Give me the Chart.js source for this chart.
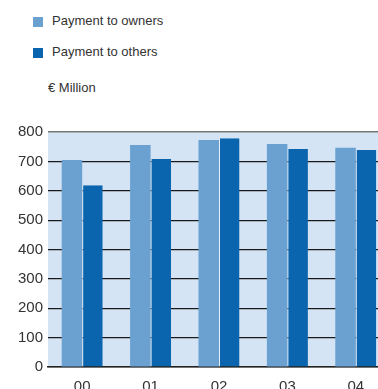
<!DOCTYPE html>
<html>
<head>
<meta charset="utf-8">
<script src="https://cdn.jsdelivr.net/npm/chart.js@4/dist/chart.umd.min.js"></script>
<style>
  html, body { margin: 0; padding: 0; background: #fff; overflow: hidden; width: 378px; height: 389px; }
  body { position: relative; font-family: "Liberation Sans", Arial, sans-serif; color: #333; }
  .key { position: absolute; left: 33px; width: 10px; height: 10px; }
  .lbl { position: absolute; font-size: 13px; line-height: 13px; white-space: nowrap; }
  #wrap { position: absolute; left: 0; top: 110px; width: 390px; height: 300px; }
</style>
</head>
<body>
<div id="legend"></div>
<div class="lbl" style="left:48px; top:81px;">€ Million</div>
<div id="wrap"><canvas id="payChart"></canvas></div>
<script>
// years and payments, € million
var years = ['00', '01', '02', '03', '04'];
var toOwners = [705, 756, 773, 759, 746];
var toOthers = [619, 708, 779, 742, 739];
var yTicks = [0, 100, 200, 300, 400, 500, 600, 700, 800];

var ownersColor = '#6aa1d1';
var othersColor = '#0a64ae';
var plotBg = '#d4e4f5';

// legend rows
var legendRows = [
    { text: 'Payment to owners', color: ownersColor, top: 17 },
    { text: 'Payment to others', color: othersColor, top: 48 }
];
var legend = document.getElementById('legend');
legendRows.forEach(function (row) {
    var box = document.createElement('div');
    box.className = 'key';
    box.style.top = row.top + 'px';
    box.style.background = row.color;
    legend.appendChild(box);
    var t = document.createElement('div');
    t.className = 'lbl';
    t.style.left = '52px';
    t.style.top = (row.top - 3) + 'px';
    t.textContent = row.text;
    legend.appendChild(t);
});

// light blue fill behind the bars
var plotBackground = {
    id: 'plotBackground',
    beforeDraw: function (chart) {
        var a = chart.chartArea;
        var ctx = chart.ctx;
        ctx.save();
        ctx.fillStyle = plotBg;
        ctx.fillRect(a.left, a.top, a.right - a.left, a.bottom - a.top);
        ctx.restore();
    }
};

var ctx = document.getElementById('payChart').getContext('2d');
var payChart = new Chart(ctx, {
    type: 'bar',
    data: {
        labels: years,
        datasets: [{
            label: 'Payment to owners',
            data: toOwners,
            backgroundColor: ownersColor,
            borderWidth: 0,
            categoryPercentage: 0.6,
            barPercentage: 1
        }, {
            label: 'Payment to others',
            data: toOthers,
            backgroundColor: othersColor,
            borderColor: '#e4eef9',
            borderWidth: { left: 1, right: 0, top: 0, bottom: 0 },
            borderSkipped: false,
            categoryPercentage: 0.6,
            barPercentage: 1
        }]
    },
    options: {
        responsive: true,
        maintainAspectRatio: false,
        animation: false,
        layout: { padding: { top: 22, right: 0, left: 0, bottom: 0 } },
        plugins: {
            legend: { display: false },
            tooltip: { enabled: false }
        },
        scales: {
            x: {
                afterFit: function (scale) { scale.height = 43; },
                grid: { display: false },
                border: { display: true, color: '#222', width: 1.5 },
                ticks: {
                    color: '#333',
                    padding: 3,
                    font: { family: '"Liberation Sans", Arial, sans-serif', size: 15 }
                }
            },
            y: {
                min: 0,
                max: 800,
                afterFit: function (scale) { scale.width = 48; },
                afterBuildTicks: function (scale) {
                    scale.ticks = yTicks.map(function (v) { return { value: v }; });
                },
                border: { display: false },
                grid: {
                    drawTicks: false,
                    color: function (c) { return c.tick && c.tick.value === 800 ? '#777' : '#1a1a1a'; },
                    lineWidth: function (c) { return c.tick && c.tick.value === 800 ? 1.5 : 1.2; }
                },
                ticks: {
                    color: '#333',
                    padding: 5,
                    font: { family: '"Liberation Sans", Arial, sans-serif', size: 15 }
                }
            }
        }
    },
    plugins: [plotBackground]
});
</script>
</body>
</html>
